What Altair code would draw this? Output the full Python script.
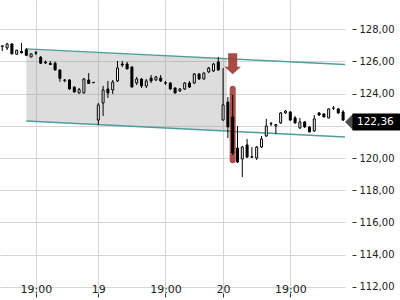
import altair as alt
import pandas as pd

# ---- candle data (index-based time axis) ----
opens  = [126.97,126.84,127.09,126.45,126.62,126.73,126.28,126.55,126.26,125.97,
          125.88,125.89,125.47,124.85,124.85,124.41,124.04,124.04,124.85,124.70,
          122.36,123.42,124.29,124.23,124.79,125.84,125.84,125.66,124.66,124.91,
          124.48,124.97,124.85,124.97,124.68,124.66,124.35,124.17,124.29,124.66,
          124.66,125.22,124.91,125.35,125.41,125.97,122.36,123.48,122.55,120.62,
          119.94,120.81,120.08,120.00,120.68,121.37,122.12,121.99,122.18,122.80,
          122.86,122.49,121.87,122.24,121.93,121.68,122.80,122.74,122.49,123.11,
          123.05,122.86]
highs  = [126.97,127.15,127.12,126.72,127.15,126.84,126.50,126.65,126.34,126.06,
          126.03,125.99,125.50,124.91,124.91,124.45,124.35,124.97,125.28,124.72,
          123.42,124.48,124.79,124.85,126.03,126.03,125.97,125.68,125.04,124.97,
          124.91,125.16,125.10,125.16,124.79,124.72,124.38,124.35,124.72,124.79,
          125.28,125.28,125.32,125.66,125.91,126.28,125.59,123.79,123.92,121.99,
          120.75,121.18,120.68,120.75,121.37,122.43,122.24,122.12,122.86,122.98,
          122.92,122.61,122.49,122.30,121.96,122.67,122.86,122.76,123.08,123.23,
          123.11,122.98]
lows   = [126.65,126.71,126.45,126.43,126.53,126.34,126.26,126.40,125.84,125.84,
          125.80,125.45,124.74,124.71,124.23,124.08,124.01,124.02,124.60,124.66,
          122.05,122.61,123.73,123.98,124.72,125.66,125.53,124.40,124.54,124.35,
          124.35,124.66,124.79,124.72,124.54,124.23,124.02,124.10,124.23,124.35,
          124.60,124.85,124.88,125.28,125.35,125.41,122.33,121.24,120.19,119.69,
          118.82,120.00,120.00,119.88,120.62,121.31,121.99,121.49,122.12,122.74,
          122.30,122.12,121.80,121.87,121.60,121.62,122.61,122.53,122.47,122.98,
          122.74,122.30]
closes = [126.93,127.09,126.47,126.70,126.53,126.38,126.47,126.52,125.89,125.91,
          125.81,125.47,124.95,124.82,124.29,124.10,124.26,124.91,124.63,124.68,
          123.30,124.23,124.04,124.72,125.59,125.78,125.53,124.41,124.91,124.48,
          124.79,124.79,125.04,124.79,124.65,124.29,124.04,124.29,124.66,124.41,
          125.22,124.91,125.28,125.59,125.84,125.47,123.30,121.93,120.31,119.75,
          120.68,120.06,120.05,120.68,121.18,121.99,122.14,122.08,122.80,122.92,
          122.36,122.18,122.24,121.93,121.62,122.43,122.67,122.55,123.05,123.09,
          122.80,122.36]

# axis ticks / labels
x_tick_pos = [7, 20, 34, 46, 60]
x_tick_lab = ["19:00", "19", "19:00", "20", "19:00"]
y_ticks = [112, 114, 116, 118, 120, 122, 124, 126, 128]

# trend channel (index, upper, lower)
chan_x   = [5, 71.4]
chan_top = [126.78, 125.81]
chan_bot = [122.30, 121.31]
fill_x   = [5, 46.8]
fill_top = [126.78, 126.16]
fill_bot = [122.30, 121.68]

# signal markers
arrow_i, arrow_v = [48], [125.86]
bar_i, bar_hi, bar_lo = [48], [124.31], [119.86]
last_price = [122.36]

X_DOM = [-0.48, 71.4]
Y_DOM = [111.61, 129.82]
FONT = "DejaVu Sans"

df = pd.DataFrame({"i": list(range(len(opens))), "o": opens, "h": highs,
                   "l": lows, "c": closes})
df["up"] = df["c"] >= df["o"]

xs = alt.Scale(domain=X_DOM, nice=False, zero=False, padding=0)
ys = alt.Scale(domain=Y_DOM, nice=False, zero=False, padding=0)

x_expr = " : ".join(f"datum.value == {p} ? '{l}'" for p, l in zip(x_tick_pos, x_tick_lab)) + " : ''"

x_axis = alt.Axis(values=x_tick_pos, labelExpr=x_expr, title=None, domain=False,
                  grid=True, gridColor="#d6d6d6", gridWidth=1, tickSize=4,
                  tickColor="#333", labelPadding=-14, labelFontSize=11,
                  labelFont=FONT, labelColor="#222", orient="bottom")
y_axis = alt.Axis(values=y_ticks, labelExpr="replace(format(datum.value, '.2f'), '.', ',')",
                  title=None, domain=False, grid=True, gridColor="#d6d6d6",
                  gridWidth=1, tickSize=4, tickColor="#333", offset=7,
                  labelPadding=3, labelFontSize=10, labelFont=FONT,
                  labelColor="#222", orient="right")


def X(f):
    return alt.X(f, scale=xs, axis=x_axis)


def Y(f):
    return alt.Y(f, scale=ys, axis=y_axis)


fill_df = pd.DataFrame({"x": fill_x, "top": fill_top, "bot": fill_bot})
chan_df = pd.DataFrame({"x": chan_x, "top": chan_top, "bot": chan_bot})

area = alt.Chart(fill_df).mark_area(color="#808080", opacity=0.27).encode(
    x=X("x:Q"), y=Y("top:Q"), y2="bot:Q")

line_top = alt.Chart(chan_df).mark_line(color="#4f9c9c", strokeWidth=1.4).encode(
    x=X("x:Q"), y=Y("top:Q"))
line_bot = alt.Chart(chan_df).mark_line(color="#4f9c9c", strokeWidth=1.4).encode(
    x=X("x:Q"), y=Y("bot:Q"))

bar_df = pd.DataFrame({"i": bar_i, "hi": bar_hi, "lo": bar_lo})
red_bar = alt.Chart(bar_df).mark_rule(color="#a23c36", strokeWidth=6,
                                      strokeCap="round", opacity=0.9).encode(
    x=X("i:Q"), y=Y("hi:Q"), y2="lo:Q")

wicks = alt.Chart(df).mark_rule(color="#000", strokeWidth=1).encode(
    x=X("i:Q"), y=Y("h:Q"), y2="l:Q")

bodies = alt.Chart(df).mark_bar(size=2, stroke="#000", strokeWidth=1).encode(
    x=X("i:Q"), y=Y("o:Q"), y2="c:Q",
    fill=alt.condition("datum.up", alt.value("#ffffff"), alt.value("#000000")))

arrow_df = pd.DataFrame({"i": arrow_i, "v": arrow_v})
arrow_path = "M-0.43,-1 L0.43,-1 L0.43,0.28 L0.78,0.28 L0,1 L-0.78,0.28 L-0.43,0.28 Z"
arrow = alt.Chart(arrow_df).mark_point(shape=arrow_path, filled=True, size=441,
                                       color="#a23c36", opacity=0.92, strokeWidth=0).encode(
    x=X("i:Q"), y=Y("v:Q"))

price_df = pd.DataFrame({"p": last_price})
pbase = alt.Chart(price_df).transform_calculate(
    lo="datum.p - 0.53", hi="datum.p + 0.53",
    txt="replace(format(datum.p, '.2f'), '.', ',')")
pbox = pbase.mark_rect(color="#000", yOffset=2, y2Offset=2).encode(
    x=alt.value(352.5), x2=alt.value(400), y=Y("hi:Q"), y2="lo:Q")
ptri = pbase.mark_point(shape="M-0.5,0 L0.5,-1 L0.5,1 Z", filled=True, size=256,
                        color="#000", strokeWidth=0, yOffset=2).encode(
    x=alt.value(349), y=Y("p:Q"))
ptxt = pbase.mark_text(align="left", baseline="middle", color="#fff", fontSize=10.5,
                       font=FONT, yOffset=2).encode(
    x=alt.value(357), y=Y("p:Q"), text="txt:N")

chart = alt.layer(area, line_top, line_bot, red_bar, wicks, bodies, arrow,
                  pbox, ptri, ptxt).properties(
    width=345, height=293,
    autosize=alt.AutoSizeParams(type="none"),
    padding={"left": 0, "top": 0, "right": 55, "bottom": 7},
    background="#ffffff",
).configure_view(stroke=None)

chart.save("out.html", embed_options={"renderer": "svg", "actions": False})
